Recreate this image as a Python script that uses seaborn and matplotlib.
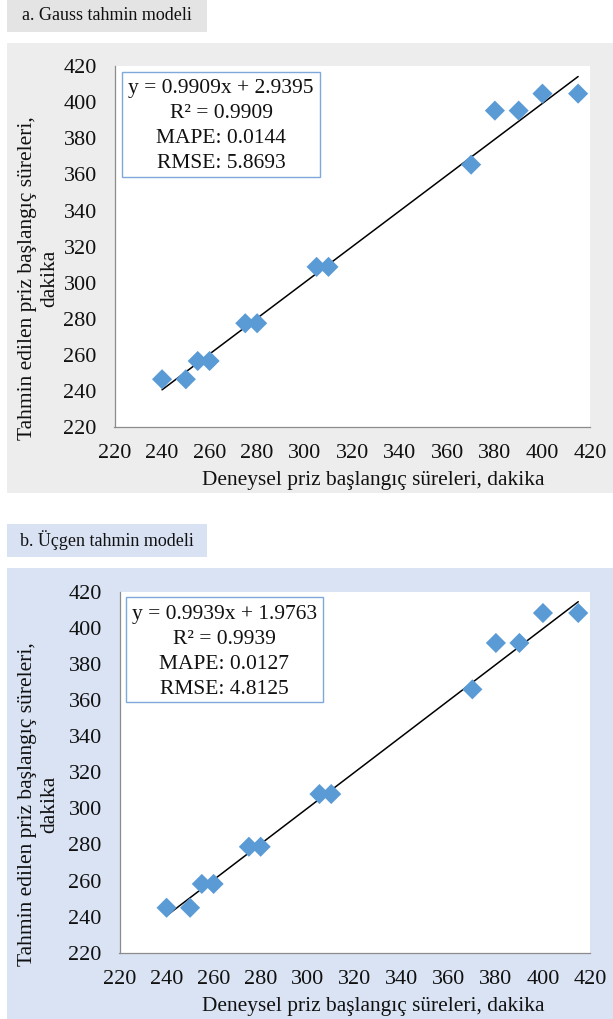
import matplotlib
matplotlib.use("Agg")
import matplotlib.pyplot as plt
import matplotlib.patches as mpatches
import numpy as np
import pandas as pd
import seaborn as sns

# ---------------- data ----------------
experimental = [240, 250, 255, 260, 275, 280, 305, 310, 370, 380, 390, 400, 415]
gauss_pred = [246.6, 246.6, 256.7, 256.7, 277.6, 277.6, 308.8, 308.8, 365.4, 395.3, 395.3, 404.7, 404.7]
tri_pred = [244.9, 244.9, 258.1, 258.1, 278.7, 278.7, 307.9, 307.9, 365.9, 391.6, 391.6, 408.2, 408.2]
gauss_fit = (0.9909, 2.9395)
tri_fit = (0.9939, 1.9763)
gauss_stats = ["y = 0.9909x + 2.9395", "R² = 0.9909", "MAPE: 0.0144", "RMSE: 5.8693"]
tri_stats = ["y = 0.9939x + 1.9763", "R² = 0.9939", "MAPE: 0.0127", "RMSE: 4.8125"]
panel_titles = ["a. Gauss tahmin modeli", "b. Üçgen tahmin modeli"]
ticks = list(range(220, 421, 20))
xlabel = "Deneysel priz başlangıç süreleri, dakika"
ylabel = "Tahmin edilen priz başlangıç süreleri,\ndakika"

sns.set_theme(style="white")
plt.rcParams["font.family"] = ["Liberation Serif", "DejaVu Serif"]

W, H = 613, 1019
fig = plt.figure(figsize=(W / 100, H / 100), dpi=100)
fig.patch.set_facecolor("white")


def fx(x):
    return x / W


def fy(y):
    return 1 - y / H


def rect(x0, y0, x1, y1, color, ec="none", lw=0, z=-5):
    r = mpatches.Rectangle((fx(x0), fy(y1)), fx(x1) - fx(x0), fy(y0) - fy(y1),
                           transform=fig.transFigure, facecolor=color,
                           edgecolor=ec, linewidth=lw, zorder=z)
    fig.patches.append(r)


panels = [
    dict(title=panel_titles[0], pred=gauss_pred, fit=gauss_fit, stats=gauss_stats,
         bg="#EDEDED", lbg="#E4E4E4", lab=(7, 0, 207, 32), title_y=16,
         pan=(7, 43, 613, 493), ax=(114.5, 66, 590, 427.3),
         box=(122, 72, 320, 177), box_lines=[88.3, 113.3, 138.3, 163.3],
         ylab=(38.5, 278), xlab=(373, 480)),
    dict(title=panel_titles[1], pred=tri_pred, fit=tri_fit, stats=tri_stats,
         bg="#DAE3F3", lbg="#D9E2F3", lab=(7, 524, 207, 557), title_y=540.5,
         pan=(7, 568, 613, 1019), ax=(119.5, 591.7, 590, 952.7),
         box=(126, 597.3, 322.7, 702.3), box_lines=[614.3, 639.3, 664.3, 689.3],
         ylab=(38.5, 804), xlab=(373, 1007)),
]

spine_c = "#8C8C8C"
for p in panels:
    rect(*p["lab"], p["lbg"])
    rect(*p["pan"], p["bg"])
    lx0, ly0, lx1, ly1 = p["lab"]
    fig.text(fx((lx0 + lx1) / 2), fy(p["title_y"]), p["title"], ha="center", va="center",
             fontsize=13, color="#111111")

    x0, y0, x1, y1 = p["ax"]
    ax = fig.add_axes([fx(x0), fy(y1), fx(x1) - fx(x0), fy(y0) - fy(y1)])
    ax.set_facecolor("white")
    df = pd.DataFrame({"x": experimental, "y": p["pred"]})
    sns.scatterplot(data=df, x="x", y="y", marker="D", s=105, color="#5B9BD5",
                    edgecolor="none", linewidth=0, ax=ax, zorder=3)
    xs = np.array([min(experimental), max(experimental)])
    sl, ic = p["fit"]
    sns.lineplot(x=xs, y=sl * xs + ic, color="black", linewidth=1.1, ax=ax, zorder=2)
    ax.set_xlim(220, 420)
    ax.set_ylim(220, 420)
    ax.set_xticks(ticks)
    ax.set_yticks(ticks)
    ax.set_xlabel("")
    ax.set_ylabel("")
    for s in ["top", "right"]:
        ax.spines[s].set_visible(False)
    for s in ["left", "bottom"]:
        ax.spines[s].set_color(spine_c)
        ax.spines[s].set_linewidth(0.9)
    ax.tick_params(axis="both", direction="out", length=4.3, width=0.8, color=spine_c,
                   labelsize=16, labelcolor="#111111")
    ax.tick_params(axis="x", pad=8)
    ax.tick_params(axis="y", pad=8.5)
    ax.grid(False)

    bx0, by0, bx1, by1 = p["box"]
    rect(bx0, by0, bx1, by1, "white", ec="#7FA9DB", lw=1.0, z=5)
    for t, yy in zip(p["stats"], p["box_lines"]):
        fig.text(fx((bx0 + bx1) / 2), fy(yy), t, ha="center", va="center",
                 fontsize=15.5, color="#111111", zorder=6)

    fig.text(fx(p["ylab"][0]), fy(p["ylab"][1]), ylabel, rotation=90, ha="center",
             va="center", multialignment="center", fontsize=15.5, color="#111111",
             linespacing=1.25)
    fig.text(fx(p["xlab"][0]), fy(p["xlab"][1]), xlabel, ha="center", va="center",
             fontsize=15.4, color="#111111")

fig.savefig("out.png", dpi=100, facecolor="white")
